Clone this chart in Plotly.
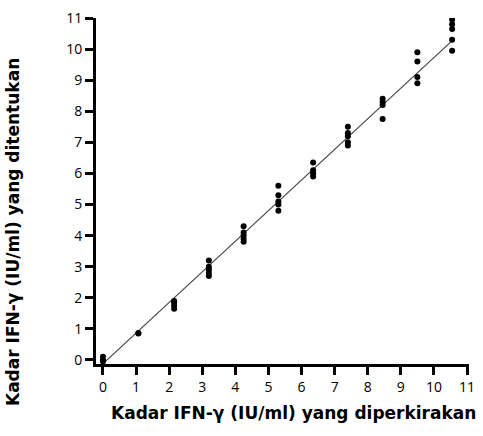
import plotly.graph_objects as go

# Expected concentration groups (x) and measured replicate values (y)
x_groups = [0.0, 1.07, 2.15, 3.2, 4.25, 5.3, 6.35, 7.4, 8.45, 9.5, 10.55]
y_groups = [
    [0.1, 0.0, -0.05],
    [0.87, 0.85],
    [1.65, 1.75, 1.85, 1.9],
    [2.7, 2.8, 2.9, 3.0, 3.2],
    [3.8, 3.9, 4.0, 4.1, 4.3],
    [4.8, 5.0, 5.1, 5.3, 5.6],
    [5.9, 6.0, 6.1, 6.35],
    [6.9, 7.0, 7.2, 7.3, 7.5],
    [7.75, 8.2, 8.3, 8.4],
    [8.9, 9.1, 9.6, 9.9],
    [9.95, 10.3, 10.65, 10.8, 10.95],
]
fit_x = [0.06, 10.57]
fit_y = [-0.06, 10.29]

x_ticks = list(range(0, 12))
y_ticks = list(range(0, 12))
x_title = "Kadar IFN-γ (IU/ml) yang diperkirakan"
y_title = "Kadar IFN-γ (IU/ml) yang ditentukan"

px, py = [], []
for xv, ys in zip(x_groups, y_groups):
    for yv in ys:
        px.append(xv)
        py.append(yv)

fig = go.Figure()
fig.add_trace(go.Scatter(x=fit_x, y=fit_y, mode="lines",
                         line=dict(color="#444444", width=1.2), showlegend=False))
fig.add_trace(go.Scatter(x=px, y=py, mode="markers",
                         marker=dict(color="black", size=6), showlegend=False))

font_ticks = dict(family="Open Sans", size=14, color="black")
fig.update_xaxes(range=[-0.21, 11.06], tickvals=x_ticks, ticks="outside", ticklen=8,
                 tickwidth=3, tickcolor="black", showline=True, linecolor="black",
                 linewidth=3, showgrid=False, zeroline=False, tickfont=font_ticks)
fig.update_yaxes(range=[-0.13, 11.0], tickvals=y_ticks, ticks="outside", ticklen=8,
                 tickwidth=3, tickcolor="black", showline=True, linecolor="black",
                 linewidth=3, showgrid=False, zeroline=False, tickfont=font_ticks)

title_font = dict(family="DejaVu Sans", size=17, color="black", weight="bold")
fig.add_annotation(text=x_title, xref="paper", yref="paper", x=0.53, y=-0.142,
                   showarrow=False, font=title_font, xanchor="center", yanchor="middle")
fig.add_annotation(text=y_title, xref="paper", yref="paper", x=-0.222, y=0.382,
                   showarrow=False, font=title_font, textangle=-90,
                   xanchor="center", yanchor="middle")

fig.update_layout(width=483, height=436, margin=dict(l=96, r=8, t=18, b=72),
                  plot_bgcolor="white", paper_bgcolor="white")
fig.write_html("out.html")
